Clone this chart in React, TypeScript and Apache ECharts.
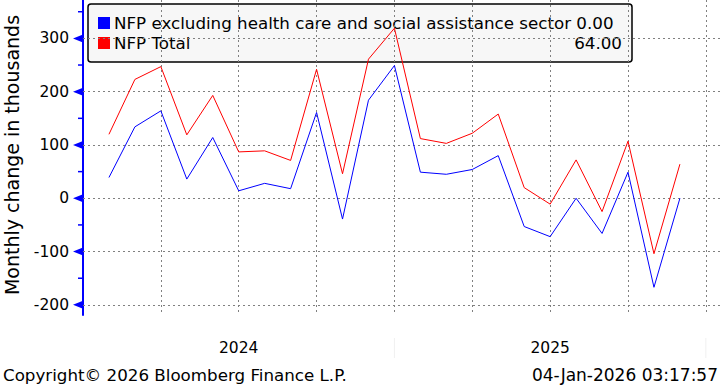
import React, { useEffect, useRef } from "react";
import * as echarts from "echarts";

// Monthly data points: Jan 2024 .. Nov 2025 (plotted at month end)
const months = [
  "Jan 2024", "Feb 2024", "Mar 2024", "Apr 2024", "May 2024", "Jun 2024",
  "Jul 2024", "Aug 2024", "Sep 2024", "Oct 2024", "Nov 2024", "Dec 2024",
  "Jan 2025", "Feb 2025", "Mar 2025", "Apr 2025", "May 2025", "Jun 2025",
  "Jul 2025", "Aug 2025", "Sep 2025", "Oct 2025", "Nov 2025",
];
const nfpExHealth = [39, 134, 164, 36, 114, 14, 28, 18, 161, -39, 184, 249, 49, 45, 54, 80, -53, -72, 0, -66, 49, -167, 0];
const nfpTotal = [120, 223, 247, 119, 193, 87, 89, 71, 242, 46, 261, 319, 112, 103, 122, 158, 20, -11, 72, -25, 107, -104, 64];

const seriesNames = ["NFP excluding health care and social assistance sector", "NFP Total"];
const lastValues = ["0.00", "64.00"];

const yMajorTicks = [-200, -100, 0, 100, 200, 300];
const yMinorTicks = [-250, -150, -50, 50, 150, 250, 350];
const yearLabelPos = [6, 18];
const yearLabelText = ["2024", "2025"];
const yearSeparators = [12, 24];

const FONT = "'DejaVu Sans', Verdana, sans-serif";
const BLUE = "#0000ff";
const RED = "#ff0000";

export default function App() {
  const ref = useRef<HTMLDivElement>(null);
  useEffect(() => {
    document.body.style.margin = "0";
    const chart = echarts.init(ref.current!, undefined, { renderer: "svg" });
    const yMin = -219;
    const yMax = 372;
    const dashed = { color: "#808080", type: [2, 3] as any, width: 1 };
    chart.setOption({
      animation: false,
      grid: {
        left: 83,
        top: 0,
        width: 640,
        height: 315,
        containLabel: false,
        outerBoundsMode: "none",
      },
      xAxis: {
        type: "value",
        min: 0,
        max: 24.66,
        interval: 3,
        axisLine: { show: false },
        axisTick: { show: false },
        splitLine: { show: true, lineStyle: dashed },
        axisLabel: {
          margin: 25,
          fontSize: 15.5,
          fontFamily: FONT,
          color: "#000",
          formatter: (v: number) => {
            const k = yearLabelPos.indexOf(v);
            return k >= 0 ? yearLabelText[k] : "";
          },
        },
      },
      yAxis: {
        type: "value",
        min: yMin,
        max: yMax,
        axisLine: { show: true, lineStyle: { color: BLUE, width: 2 } },
        axisTick: { show: false },
        splitLine: { show: false },
        axisLabel: { show: false },
      },
      series: [
        {
          type: "line",
          name: seriesNames[0],
          data: nfpExHealth.map((v, i) => [i + 1, v]),
          symbol: "none",
          lineStyle: { color: BLUE, width: 1 },
          z: 3,
          markLine: {
            silent: true,
            symbol: "none",
            label: { show: false },
            lineStyle: dashed,
            data: yMajorTicks.map((v) => ({ yAxis: v })),
            z: 1,
          },
        },
        {
          type: "line",
          name: seriesNames[1],
          data: nfpTotal.map((v, i) => [i + 1, v]),
          symbol: "none",
          lineStyle: { color: RED, width: 1 },
          z: 3,
        },
        {
          type: "custom",
          silent: true,
          clip: false,
          data: yMajorTicks.map((v) => [0, v]),
          renderItem: (_p: any, api: any) => {
            const c = api.coord([api.value(0), api.value(1)]);
            return {
              type: "group",
              children: [
                {
                  type: "polygon",
                  shape: { points: [[c[0], c[1] - 4], [c[0], c[1] + 4], [c[0] - 10, c[1]]] },
                  style: { fill: BLUE },
                },
                {
                  type: "text",
                  x: c[0] - 14,
                  y: c[1],
                  style: {
                    text: String(api.value(1)),
                    font: `15.5px ${FONT}`,
                    fill: "#000",
                    align: "right",
                    verticalAlign: "middle",
                  },
                },
              ],
            };
          },
          z: 5,
        },
        {
          type: "custom",
          silent: true,
          clip: false,
          data: yMinorTicks.filter((v) => v > yMin && v < yMax).map((v) => [0, v]),
          renderItem: (_p: any, api: any) => {
            const c = api.coord([api.value(0), api.value(1)]);
            return {
              type: "line",
              shape: { x1: c[0] - 5, y1: c[1], x2: c[0], y2: c[1] },
              style: { stroke: BLUE, lineWidth: 1.5 },
            };
          },
          z: 5,
        },
        {
          type: "custom",
          silent: true,
          clip: false,
          data: yearSeparators.map((v) => [v, yMin]),
          renderItem: (_p: any, api: any) => {
            const c = api.coord([api.value(0), api.value(1)]);
            return {
              type: "line",
              shape: { x1: c[0], y1: c[1] + 23, x2: c[0], y2: c[1] + 43 },
              style: { stroke: "#f0f0f0", lineWidth: 1 },
            };
          },
          z: 1,
        },
      ],
      graphic: [
        {
          type: "group",
          z: 100,
          children: [
            {
              type: "rect",
              shape: { x: 88, y: 4, width: 544, height: 58, r: 3 },
              style: { fill: "rgba(240,240,240,0.55)", stroke: "#000", lineWidth: 1.5 },
            },
            { type: "rect", shape: { x: 98, y: 17, width: 12, height: 12 }, style: { fill: BLUE } },
            { type: "rect", shape: { x: 98, y: 37, width: 12, height: 12 }, style: { fill: RED } },
            {
              type: "text",
              x: 114,
              y: 23,
              style: {
                text: seriesNames[0] + " " + lastValues[0],
                font: `16.7px ${FONT}`,
                fill: "#000",
                verticalAlign: "middle",
              },
            },
            {
              type: "text",
              x: 114,
              y: 43,
              style: { text: seriesNames[1], font: `16.7px ${FONT}`, fill: "#000", verticalAlign: "middle" },
            },
            {
              type: "text",
              x: 622,
              y: 43,
              style: {
                text: lastValues[1],
                font: `16.7px ${FONT}`,
                fill: "#000",
                align: "right",
                verticalAlign: "middle",
              },
            },
          ],
        },
        {
          type: "text",
          x: 12,
          y: 155,
          rotation: Math.PI / 2,
          style: {
            text: "Monthly change in thousands",
            font: `19px ${FONT}`,
            fill: "#000",
            align: "center",
            verticalAlign: "middle",
          },
        },
        {
          type: "text",
          x: 3,
          y: 375,
          style: {
            text: "Copyright\u00A9 2026 Bloomberg Finance L.P.",
            font: `16.7px ${FONT}`,
            fill: "#000",
            verticalAlign: "middle",
          },
        },
        {
          type: "text",
          x: 718,
          y: 375,
          style: {
            text: "04-Jan-2026 03:17:57",
            font: `17px ${FONT}`,
            fill: "#000",
            align: "right",
            verticalAlign: "middle",
          },
        },
      ],
    });
    return () => chart.dispose();
  }, []);
  return (
    <div
      ref={ref}
      style={{ position: "absolute", left: 0, top: 0, width: 720, height: 387, background: "#fff" }}
    />
  );
}
